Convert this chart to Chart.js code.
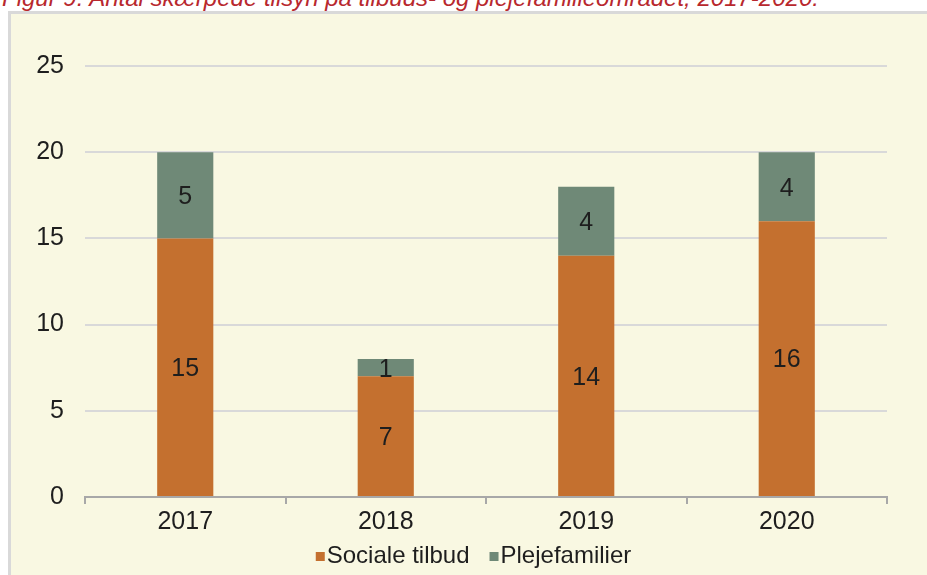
<!DOCTYPE html>
<html>
<head>
<meta charset="utf-8">
<script src="https://cdn.jsdelivr.net/npm/chart.js@4/dist/chart.umd.min.js"></script>
<style>
  html, body { margin: 0; padding: 0; width: 927px; height: 575px; overflow: hidden; background: #ffffff; }
  #frame { position: absolute; left: 8px; top: 11px; width: 1000px; height: 1000px;
           border: 3px solid #D9D9D9; background: #F9F8E2; box-sizing: border-box; }
  #title { position: absolute; left: 2px; top: -14px; font-family: "Liberation Sans", Arial, sans-serif;
           font-style: italic; font-size: 24px; line-height: 24px; color: #B8282E; white-space: nowrap; }
  #c { position: absolute; left: 0; top: 0; }
</style>
</head>
<body>
<div id="frame"></div>
<div id="title">Figur 9: Antal skærpede tilsyn på tilbuds- og plejefamilieområdet, 2017-2020.</div>
<canvas id="c" width="927" height="575"></canvas>
<script>
const categories = ["2017", "2018", "2019", "2020"];
const socialeTilbud = [15, 7, 14, 16];
const plejefamilier = [5, 1, 4, 4];
const seriesNames = ["Sociale tilbud", "Plejefamilier"];
const seriesColors = ["#C4702F", "#6F8977"];
const yTicks = [0, 5, 10, 15, 20, 25];

const FONT = '"Liberation Sans", Arial, sans-serif';
const TEXT = '#1E1E1E';

const valueLabels = {
  id: 'valueLabels',
  afterDatasetsDraw(chart) {
    const ctx = chart.ctx;
    ctx.save();
    ctx.font = '25px ' + FONT;
    ctx.fillStyle = TEXT;
    ctx.textAlign = 'center';
    ctx.textBaseline = 'middle';
    chart.data.datasets.forEach((ds, di) => {
      const meta = chart.getDatasetMeta(di);
      meta.data.forEach((el, i) => {
        const p = el.getProps(['x', 'y', 'base'], true);
        ctx.fillText(String(ds.data[i]), p.x, (p.y + p.base) / 2 + 2);
      });
    });
    ctx.restore();
  }
};

const customLegend = {
  id: 'customLegend',
  afterDraw(chart) {
    const ctx = chart.ctx;
    ctx.save();
    ctx.font = '24px ' + FONT;
    ctx.textBaseline = 'middle';
    ctx.textAlign = 'left';
    const boxW = 9, boxH = 9, gapText = 2, gapItem = 20;
    const items = chart.data.datasets.map(ds => ({ label: ds.label, color: ds.backgroundColor }));
    let total = 0;
    items.forEach((it, i) => {
      it.w = ctx.measureText(it.label).width;
      total += boxW + gapText + it.w + (i < items.length - 1 ? gapItem : 0);
    });
    let x = 473.5 - total / 2;
    const yc = 557;
    items.forEach(it => {
      ctx.fillStyle = it.color;
      ctx.fillRect(x, yc - boxH / 2 - 0.5, boxW, boxH);
      x += boxW + gapText;
      ctx.fillStyle = TEXT;
      ctx.fillText(it.label, x, yc - 1);
      x += it.w + gapItem;
    });
    ctx.restore();
  }
};

new Chart(document.getElementById('c'), {
  type: 'bar',
  data: {
    labels: categories,
    datasets: [
      { label: seriesNames[0], data: socialeTilbud, backgroundColor: seriesColors[0],
        categoryPercentage: 1.0, barPercentage: 0.28 },
      { label: seriesNames[1], data: plejefamilier, backgroundColor: seriesColors[1],
        categoryPercentage: 1.0, barPercentage: 0.28 }
    ]
  },
  options: {
    responsive: false,
    animation: false,
    devicePixelRatio: 1,
    layout: { padding: { left: 0, right: 40, top: 66, bottom: 38 } },
    plugins: { legend: { display: false }, tooltip: { enabled: false }, title: { display: false } },
    scales: {
      x: {
        stacked: true,
        grid: { display: true, drawOnChartArea: false, drawTicks: true, tickLength: 7,
                color: '#A8A8A8', lineWidth: 2, offset: true },
        border: { display: true, color: '#A8A8A8', width: 2 },
        ticks: { color: TEXT, font: { family: FONT, size: 25 }, padding: 3, maxRotation: 0 },
        afterFit(s) { s.height = 40; }
      },
      y: {
        stacked: true,
        min: 0, max: 25,
        grid: { color: '#D9D9D9', lineWidth: 2, drawTicks: false },
        border: { display: false },
        afterBuildTicks(s) { s.ticks = yTicks.map(v => ({ value: v })); },
        ticks: { color: TEXT, font: { family: FONT, size: 25 }, padding: 21 },
        afterFit(s) { s.width = 85; }
      }
    }
  },
  plugins: [valueLabels, customLegend]
});
</script>
</body>
</html>
